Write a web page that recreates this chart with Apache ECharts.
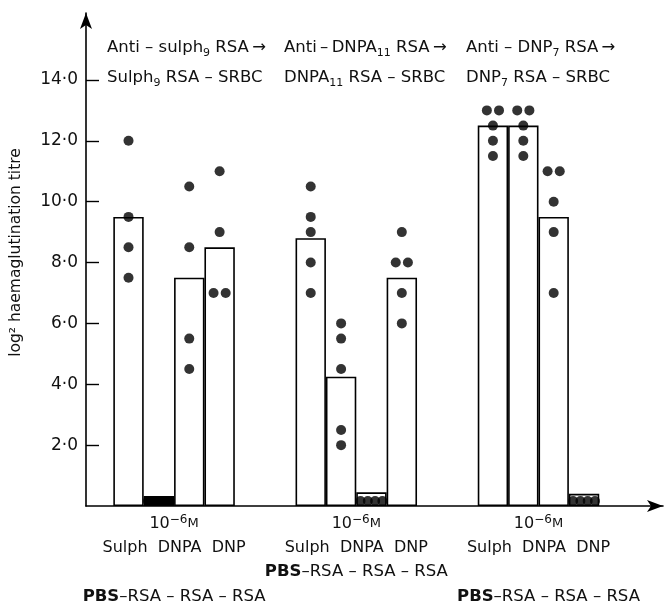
<!DOCTYPE html>
<html><head><meta charset="utf-8">
<script src="https://cdn.jsdelivr.net/npm/echarts@6/dist/echarts.min.js"></script>
<style>html,body{margin:0;padding:0;background:#fff}#c{width:666px;height:605px}</style>
</head><body><div id="c"></div>
<script>
// ---- data ----
const groupAntisera = ['Anti – sulph', 'Anti\u2009–\u2009DNPA', 'Anti – DNP'];
const groupHaptenSub = ['9', '11', '7'];
const groupTargets = ['Sulph', 'DNPA', 'DNP'];
const inhibitorLabels = ['Sulph', 'DNPA', 'DNP'];
const controlLabel = 'RSA – RSA – RSA';
// bar heights (mean log2 titre), 4 bars per group
const barMeans = [9.5, 0.33, 7.5, 8.5,  8.8, 4.25, 0.45, 7.5,  12.5, 12.5, 9.5, 0.4];
// individual animals, same order as barMeans
const dotValues = [
  [12, 9.5, 8.5, 7.5],
  [0, 0, 0, 0],
  [10.5, 8.5, 5.5, 4.5],
  [11, 9, 7, 7],
  [10.5, 9.5, 9, 8, 7],
  [6, 5.5, 4.5, 2.5, 2],
  [0, 0, 0, 0],
  [9, 8, 8, 7, 6],
  [13, 13, 12.5, 12, 11.5],
  [13, 13, 12.5, 12, 11.5],
  [11, 11, 10, 9, 7],
  [0, 0, 0, 0]
];
const yTicks = [2, 4, 6, 8, 10, 12, 14];
const solidBar = [false, true, false, false, false, false, false, false, false, false, false, false];

// ---- layout ----
const FONT = 'DejaVu Sans';
const slotOf = i => 1.4 + Math.floor(i / 4) * 6 + (i % 4);

const barData = barMeans.map((v, i) => ({
  value: [slotOf(i), v],
  itemStyle: { color: solidBar[i] ? '#000' : '#fff', borderColor: '#000', borderWidth: 1.6 }
}));

const dotData = [];
dotValues.forEach((vals, i) => {
  const x0 = slotOf(i);
  const zeros = vals.filter(v => v === 0).length;
  let zi = 0;
  const seen = {};
  vals.forEach(v => {
    if (v === 0) {
      const off = (zi - (zeros - 1) / 2) * 0.24; zi++;
      dotData.push({ value: [x0 + off, v], symbolOffset: [0, -5] });
    } else {
      const same = vals.filter(w => w === v).length;
      if (same > 1) {
        seen[v] = (seen[v] || 0);
        const off = (seen[v] - (same - 1) / 2) * 0.4; seen[v]++;
        dotData.push({ value: [x0 + off, v] });
      } else dotData.push({ value: [x0, v] });
    }
  });
});

const groupCenters = [0, 1, 2].map(g => 1.4 + g * 6 + 1.5);

const chart = echarts.init(document.getElementById('c'), null, { renderer: 'canvas' });

function headerText(g) {
  return [
    '{t|' + groupAntisera[g] + '}{s|' + groupHaptenSub[g] + '}{t| RSA\u2009→}',
    '{t|' + groupTargets[g] + '}{s|' + groupHaptenSub[g] + '}{t| RSA – SRBC}'
  ].join('\n');
}
const richHead = {
  t: { fontSize: 16.5, fontFamily: FONT, color: '#111', lineHeight: 30 },
  s: { fontSize: 11, fontFamily: FONT, color: '#111', lineHeight: 30, padding: [11, 0, 0, 0] }
};

chart.setOption({
  animation: false,
  backgroundColor: '#fff',
  grid: { left: 85, right: 3, top: 13, bottom: 99 },
  xAxis: {
    type: 'value', min: 0, max: 19,
    axisLine: { show: true, lineStyle: { color: '#000', width: 1.6 }, symbol: ['none', 'arrow'], symbolSize: [9, 16] },
    axisTick: { show: false }, axisLabel: { show: false }, splitLine: { show: false }
  },
  yAxis: {
    type: 'value', min: 0, max: 16.2,
    name: 'log² haemaglutination titre', nameLocation: 'middle', nameGap: 62,
    nameTextStyle: { fontFamily: FONT, fontSize: 15.5, color: '#111', padding: [0, 0, 0, 14] },
    axisLine: { show: true, lineStyle: { color: '#000', width: 1.6 }, symbol: ['none', 'arrow'], symbolSize: [9, 16] },
    axisTick: { show: true, inside: true, length: 13, customValues: yTicks, lineStyle: { color: '#000', width: 1.4 } },
    axisLabel: { customValues: yTicks, margin: 8, fontFamily: FONT, fontSize: 17, color: '#111',
      formatter: v => (v.toFixed(1)).replace('.', '·') },
    splitLine: { show: false }
  },
  series: [
    { type: 'bar', data: barData, barWidth: 30.4, z: 2 },
    { type: 'scatter', data: dotData, symbol: 'circle', symbolSize: 10, itemStyle: { color: '#000' }, z: 3 }
  ],
  graphic: []
});

// text placed through the axis scales
const px = (x, y) => chart.convertToPixel({ gridIndex: 0 }, [x, y]);
const graphics = [];
const headerLeft = [107, 284, 466];
[0, 1, 2].forEach(g => {
  graphics.push({ type: 'text', left: headerLeft[g], top: 37,
    style: { text: headerText(g), rich: richHead, fill: '#111' } });
  const cx = px(groupCenters[g], 0)[0];
  graphics.push({ type: 'text', x: cx, y: 524,
    style: { text: '{n|10}{p|−6}{m|M}', align: 'center', verticalAlign: 'middle',
      rich: { n: { fontSize: 16, fontFamily: FONT, fill: '#111', lineHeight: 20 },
              p: { fontSize: 12, fontFamily: FONT, fill: '#111', lineHeight: 20, padding: [0, 0, 8, 0] },
              m: { fontSize: 13, fontFamily: FONT, fill: '#111', lineHeight: 20 } } } });
  graphics.push({ type: 'text', x: cx, y: 548,
    style: { text: inhibitorLabels.join('  '), align: 'center', verticalAlign: 'middle',
      font: '16px "DejaVu Sans"', fill: '#111' } });
  graphics.push({ type: 'text', x: cx + (g === 2 ? 10 : 0), y: g === 1 ? 572 : 597,
    style: { text: '{b|PBS}{r|–' + controlLabel + '}', align: 'center', verticalAlign: 'middle',
      rich: { b: { fontSize: 16.5, fontWeight: 'bold', fontFamily: FONT, fill: '#111' },
              r: { fontSize: 16.5, fontFamily: FONT, fill: '#111' } } } });
});
chart.setOption({ graphic: graphics });
</script></body></html>
